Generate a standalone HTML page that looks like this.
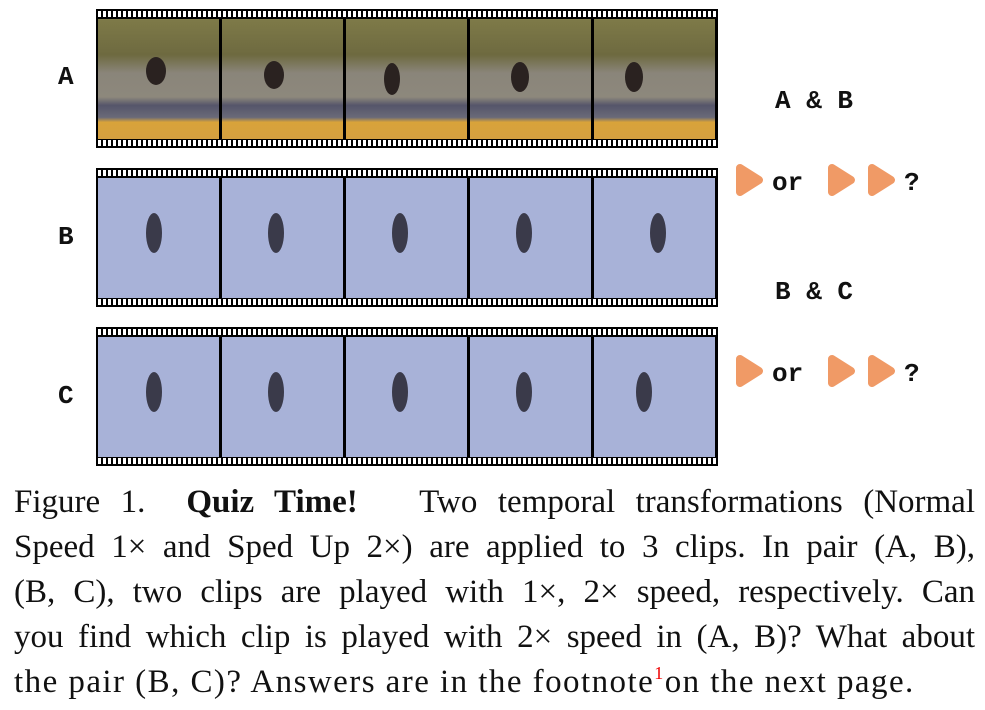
<!DOCTYPE html>
<html><head><style>
body{margin:0;width:985px;height:710px;background:#fff;position:relative;overflow:hidden;font-family:"Liberation Serif",serif}
.strip{position:absolute;left:96px;width:622px;height:139px;background:#000}
.holes{position:absolute;left:2px;right:2px;height:6px;background:repeating-linear-gradient(90deg,#fff 0 3px,#000 3px 5px)}
.fr{position:absolute;top:10px;width:121px;height:120px;overflow:hidden}
.lab{position:absolute;font:bold 26px "Liberation Mono",monospace;color:#111}
.cap{position:absolute;left:14px;width:961px;font-size:33px;line-height:45px;height:45px;text-align:justify;text-align-last:justify;color:#111;white-space:nowrap}
sup{line-height:0;vertical-align:0;position:relative;top:-13px;color:#e00;font-size:18px}
</style></head><body>

<div class="lab" style="left:58px;top:62px">A</div>
<div class="lab" style="left:58px;top:222px">B</div>
<div class="lab" style="left:58px;top:381px">C</div>

<div class="strip" style="top:9px"><div class="holes" style="top:2px"></div><div class="holes" style="bottom:2px"></div>
<div class="fr" style="left:2px;background:linear-gradient(#7e7a48 0%,#6e6a40 30%,#8a857a 45%,#8d887c 65%,#55556a 72%,#6a6a78 82%,#d9a33a 86%,#d4a040 100%)"></div>
<div class="fr" style="left:126px;background:linear-gradient(#7e7a48 0%,#6e6a40 30%,#8a857a 45%,#8d887c 65%,#55556a 72%,#6a6a78 82%,#d9a33a 86%,#d4a040 100%)"></div>
<div class="fr" style="left:250px;background:linear-gradient(#7e7a48 0%,#6e6a40 30%,#8a857a 45%,#8d887c 65%,#55556a 72%,#6a6a78 82%,#d9a33a 86%,#d4a040 100%)"></div>
<div class="fr" style="left:374px;background:linear-gradient(#7e7a48 0%,#6e6a40 30%,#8a857a 45%,#8d887c 65%,#55556a 72%,#6a6a78 82%,#d9a33a 86%,#d4a040 100%)"></div>
<div class="fr" style="left:498px;background:linear-gradient(#7e7a48 0%,#6e6a40 30%,#8a857a 45%,#8d887c 65%,#55556a 72%,#6a6a78 82%,#d9a33a 86%,#d4a040 100%)"></div>
<svg style="position:absolute;left:0;top:0" width="622" height="139">
<g fill="#2a2220"><ellipse cx="60" cy="62" rx="10" ry="14"/><ellipse cx="178" cy="66" rx="10" ry="14"/><ellipse cx="296" cy="70" rx="8" ry="16"/><ellipse cx="424" cy="68" rx="9" ry="15"/><ellipse cx="538" cy="68" rx="9" ry="15"/></g>
</svg>
</div>

<div class="strip" style="top:168px"><div class="holes" style="top:2px"></div><div class="holes" style="bottom:2px"></div>
<div class="fr" style="left:2px;background:#a8b2d8"></div><div class="fr" style="left:126px;background:#a8b2d8"></div><div class="fr" style="left:250px;background:#a8b2d8"></div><div class="fr" style="left:374px;background:#a8b2d8"></div><div class="fr" style="left:498px;background:#a8b2d8"></div>
<svg style="position:absolute;left:0;top:0" width="622" height="139"><g fill="#3a3a4a"><ellipse cx="58" cy="65" rx="8" ry="20"/><ellipse cx="180" cy="65" rx="8" ry="20"/><ellipse cx="304" cy="65" rx="8" ry="20"/><ellipse cx="428" cy="65" rx="8" ry="20"/><ellipse cx="562" cy="65" rx="8" ry="20"/></g></svg>
</div>

<div class="strip" style="top:327px"><div class="holes" style="top:2px"></div><div class="holes" style="bottom:2px"></div>
<div class="fr" style="left:2px;background:#a8b2d8"></div><div class="fr" style="left:126px;background:#a8b2d8"></div><div class="fr" style="left:250px;background:#a8b2d8"></div><div class="fr" style="left:374px;background:#a8b2d8"></div><div class="fr" style="left:498px;background:#a8b2d8"></div>
<svg style="position:absolute;left:0;top:0" width="622" height="139"><g fill="#3a3a4a"><ellipse cx="58" cy="65" rx="8" ry="20"/><ellipse cx="180" cy="65" rx="8" ry="20"/><ellipse cx="304" cy="65" rx="8" ry="20"/><ellipse cx="428" cy="65" rx="8" ry="20"/><ellipse cx="548" cy="65" rx="8" ry="20"/></g></svg>
</div>

<div class="lab" style="left:775px;top:86px">A &amp; B</div>
<div class="lab" style="left:775px;top:277px">B &amp; C</div>

<svg style="position:absolute;left:730px;top:161px" width="200" height="40">
<g fill="#f09a66" stroke="#f09a66" stroke-width="8" stroke-linejoin="round"><path d="M10 7 L29 19 L10 31Z"/><path d="M102 7 L121 19 L102 31Z"/><path d="M142 7 L161 19 L142 31Z"/></g>
<text x="42" y="29" font-family="Liberation Mono,monospace" font-weight="bold" font-size="26" fill="#111">or</text>
<text x="174" y="29" font-family="Liberation Mono,monospace" font-weight="bold" font-size="26" fill="#111">?</text>
</svg>
<svg style="position:absolute;left:730px;top:352px" width="200" height="40">
<g fill="#f09a66" stroke="#f09a66" stroke-width="8" stroke-linejoin="round"><path d="M10 7 L29 19 L10 31Z"/><path d="M102 7 L121 19 L102 31Z"/><path d="M142 7 L161 19 L142 31Z"/></g>
<text x="42" y="29" font-family="Liberation Mono,monospace" font-weight="bold" font-size="26" fill="#111">or</text>
<text x="174" y="29" font-family="Liberation Mono,monospace" font-weight="bold" font-size="26" fill="#111">?</text>
</svg>

<div class="cap" style="top:480px">Figure 1. &nbsp;<b>Quiz Time!</b> &nbsp;&nbsp;Two temporal transformations (Normal</div>
<div class="cap" style="top:525px">Speed 1× and Sped Up 2×) are applied to 3 clips. In pair (A, B),</div>
<div class="cap" style="top:570px">(B, C), two clips are played with 1×, 2× speed, respectively. Can</div>
<div class="cap" style="top:615px">you find which clip is played with 2× speed in (A, B)? What about</div>
<div class="cap" style="top:660px;text-align-last:left;width:auto;letter-spacing:1.45px">the pair (B, C)? Answers are in the footnote<sup>1</sup>on the next page.</div>
</body></html>
